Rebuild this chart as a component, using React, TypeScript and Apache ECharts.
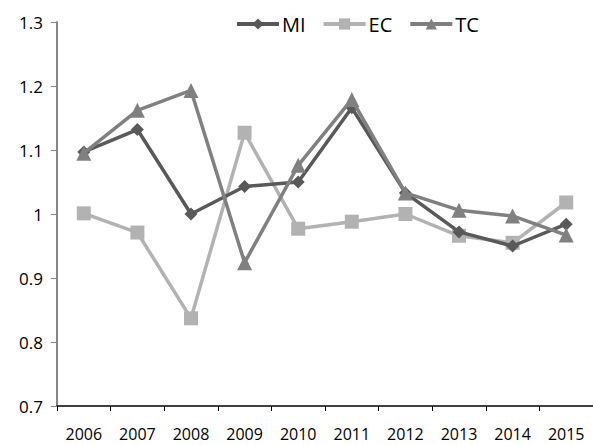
import React, { useEffect, useRef } from "react";
import * as echarts from "echarts";

const years = ["2006", "2007", "2008", "2009", "2010", "2011", "2012", "2013", "2014", "2015"];
const miValues = [1.097, 1.132, 1.0, 1.043, 1.05, 1.166, 1.033, 0.972, 0.95, 0.984];
const ecValues = [1.001, 0.971, 0.837, 1.127, 0.977, 0.988, 1.0, 0.966, 0.955, 1.018];
const tcValues = [1.095, 1.162, 1.193, 0.924, 1.076, 1.179, 1.033, 1.006, 0.997, 0.967];

const FONT = "'Open Sans', 'Noto Sans', sans-serif";

export default function App() {
  const ref = useRef<HTMLDivElement>(null);
  useEffect(() => {
    if (!ref.current) return;
    const chart = echarts.init(ref.current, undefined, { renderer: "svg" });
    chart.setOption({
      animation: false,
      backgroundColor: "#ffffff",
      legend: {
        top: 9,
        left: 230,
        itemWidth: 42,
        itemHeight: 14,
        itemGap: 16,
        lineStyle: { width: 4 },
        textStyle: { fontFamily: FONT, fontSize: 20, color: "#000", lineHeight: 20, padding: [0, 0, 0, -2] },
        data: ["MI", "EC", "TC"],
      },
      grid: { left: 57, top: 22, width: 540, height: 384 },
      xAxis: {
        type: "category",
        data: years,
        boundaryGap: true,
        axisLine: { lineStyle: { color: "#000", width: 1.5 } },
        axisTick: { show: true, length: 5, lineStyle: { color: "#000", width: 1 } },
        axisLabel: { fontFamily: FONT, fontSize: 16, lineHeight: 14, color: "#000", margin: 21 },
        splitLine: { show: false },
      },
      yAxis: {
        type: "value",
        min: 0.7,
        max: 1.3,
        interval: 0.1,
        axisLine: { show: true, lineStyle: { color: "#868686", width: 2 } },
        axisTick: { show: true, length: 6, lineStyle: { color: "#868686", width: 1 } },
        axisLabel: { fontFamily: FONT, fontSize: 17, color: "#000", margin: 14 },
        splitLine: { show: false },
      },
      series: [
        {
          name: "MI",
          type: "line",
          data: miValues,
          symbol: "diamond",
          symbolSize: 13,
          color: "#595959",
          lineStyle: { width: 3.5, color: "#595959" },
          itemStyle: { color: "#595959" },
          z: 3,
        },
        {
          name: "EC",
          type: "line",
          data: ecValues,
          symbol: "rect",
          symbolSize: 14,
          color: "#b2b2b2",
          lineStyle: { width: 3.5, color: "#b2b2b2" },
          itemStyle: { color: "#b2b2b2" },
          z: 2,
        },
        {
          name: "TC",
          type: "line",
          data: tcValues,
          symbol: "triangle",
          symbolSize: 15,
          color: "#808080",
          lineStyle: { width: 3.5, color: "#808080" },
          itemStyle: { color: "#808080" },
          z: 4,
        },
      ],
    });
    return () => chart.dispose();
  }, []);
  return <div ref={ref} style={{ width: 593, height: 445, position: "absolute", left: 0, top: 0 }} />;
}
